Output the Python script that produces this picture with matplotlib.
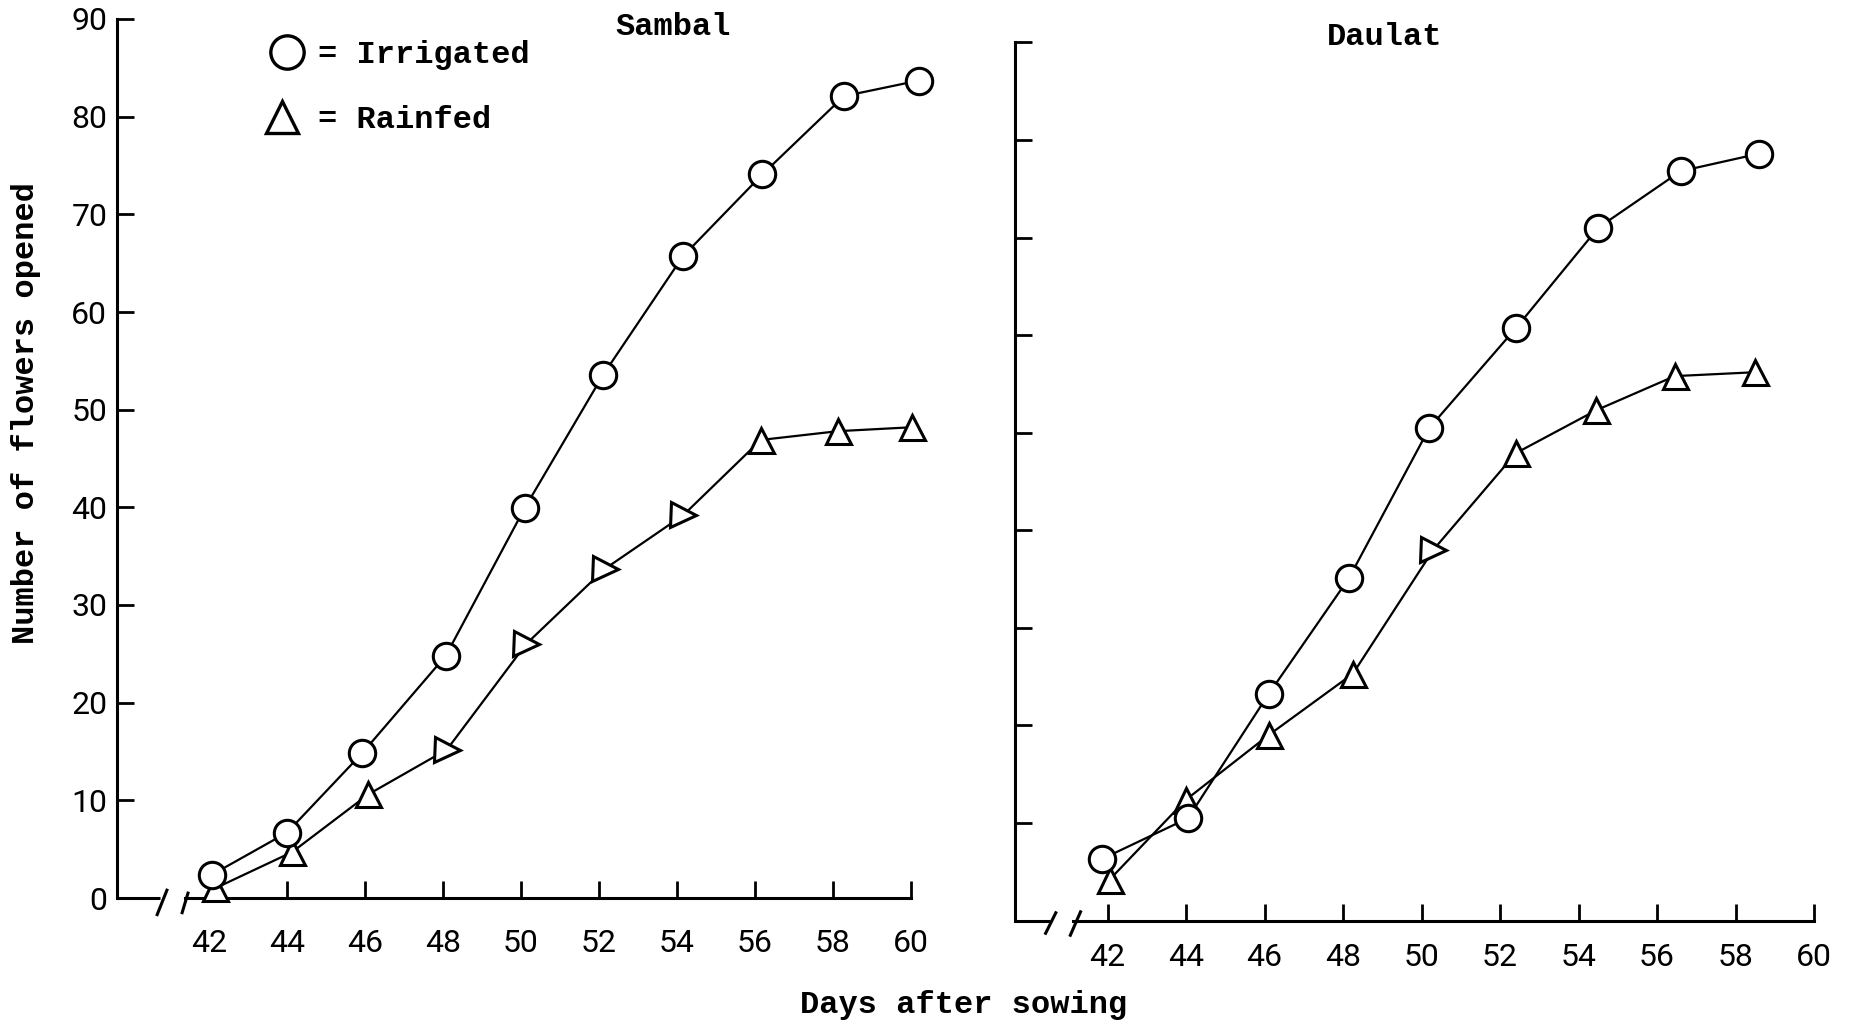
import matplotlib.pyplot as plt

# days after sowing (tick labels) and values
days = [42, 44, 46, 48, 50, 52, 54, 56, 58, 60]

sambal_irr_x = [42.08, 44.0, 45.92, 48.07, 50.09, 52.11, 54.15, 56.19, 58.28, 60.2]
sambal_irr_y = [2.4, 6.7, 14.8, 24.8, 39.9, 53.6, 65.7, 74.1, 82.1, 83.7]
sambal_rain_x = [42.16, 44.13, 46.08, 48.1, 50.13, 52.15, 54.16, 56.15, 58.13, 60.02]
sambal_rain_y = [1.0, 4.7, 10.6, 15.2, 26.0, 33.7, 39.2, 46.9, 47.8, 48.2]

daulat_irr_x = [41.85, 44.05, 46.1, 48.15, 50.2, 52.4, 54.5, 56.6, 58.6]
daulat_irr_y = [6.3, 10.5, 23.2, 35.1, 50.5, 60.7, 71.0, 76.8, 78.6]
daulat_rain_x = [42.05, 44.0, 46.1, 48.25, 50.3, 52.4, 54.45, 56.45, 58.5]
daulat_rain_y = [4.2, 12.4, 19.0, 25.3, 38.0, 47.9, 52.3, 55.8, 56.2]

yticks = [0, 10, 20, 30, 40, 50, 60, 70, 80, 90]

plt.rcParams["font.family"] = ["Liberation Mono", "DejaVu Sans Mono"]
W, H = 1850, 1026
fig = plt.figure(figsize=(W / 100, H / 100), dpi=100)

ax1 = fig.add_axes([117 / W, 1 - 898 / H, 796 / W, 879 / H])
ax2 = fig.add_axes([1015 / W, 1 - 920.6 / H, 801 / W, 878.2 / H])


def style(ax, axis_start, piece_end, slash1, slash2, ylabels, xpad):
    ax.set_xlim(39.64, 60.05)
    ax.set_ylim(0, 90)
    ax.spines["top"].set_visible(False)
    ax.spines["right"].set_visible(False)
    ax.spines["left"].set_linewidth(2.2)
    ax.spines["bottom"].set_linewidth(2.2)
    ax.spines["bottom"].set_bounds(axis_start, 60.0)
    ax.set_xticks(days, labels=[str(d) for d in days],
                  fontfamily="Roboto", fontsize=23)
    if ylabels:
        ax.set_yticks(yticks, labels=[str(v) for v in yticks],
                      fontfamily="Roboto", fontsize=23)
    else:
        ax.set_yticks(yticks, labels=[])
    ax.tick_params(direction="in", length=12, width=2)
    ax.tick_params(axis="x", pad=xpad)
    ax.tick_params(axis="y", pad=7)
    # broken axis near the origin
    x0 = ax.get_xlim()[0]
    ax.plot([x0, piece_end], [0, 0], color="black", lw=2.2, clip_on=False,
            solid_capstyle="butt")
    for (xa, ya), (xb, yb) in (slash1, slash2):
        ax.plot([xa, xb], [ya, yb], color="black", lw=2.2, clip_on=False)


style(ax1, 41.38, 40.74,
      ((40.67, -1.7), (40.92, 0.8)), ((41.31, -1.5), (41.46, 0.5)), True, 22)
style(ax2, 41.11, 40.52,
      ((40.42, -1.3), (40.68, 0.8)), ((41.05, -1.5), (41.31, 0.9)), False, 16)

line_kw = dict(color="black", lw=1.6, clip_on=False, zorder=3)
circ_kw = dict(marker="o", markersize=19, markerfacecolor="white",
               markeredgecolor="black", markeredgewidth=2.2)
tri_kw = dict(markersize=18, markerfacecolor="white",
              markeredgecolor="black", markeredgewidth=2.2)

sambal_marks = ["^", "^", "^", ">", ">", ">", ">", "^", "^", "^"]
daulat_marks = ["^", "^", "^", "^", ">", "^", "^", "^", "^"]

for ax, ix, iy, rx, ry, marks in [
    (ax1, sambal_irr_x, sambal_irr_y, sambal_rain_x, sambal_rain_y, sambal_marks),
    (ax2, daulat_irr_x, daulat_irr_y, daulat_rain_x, daulat_rain_y, daulat_marks),
]:
    ax.plot(rx, ry, **line_kw)
    ax.plot(ix, iy, **line_kw)
    for x, y, m in zip(rx, ry, marks):
        ax.plot([x], [y], linestyle="none", marker=m, clip_on=False,
                zorder=4, **tri_kw)
    ax.plot(ix, iy, linestyle="none", clip_on=False, zorder=5, **circ_kw)

txt_kw = dict(fontsize=23, fontweight="bold", color="black")

fig.text(673 / W, 1 - 35 / H, "Sambal", ha="center", va="baseline", **txt_kw)
fig.text(1385 / W, 1 - 45 / H, "Daulat", ha="center", va="baseline", **txt_kw)
fig.text(964 / W, 1 - 1013 / H, "Days after sowing", ha="center",
         va="baseline", **txt_kw)
fig.text(26 / W, 1 - 413 / H, "Number of flowers opened", ha="center",
         va="center", rotation=90, **txt_kw)

# legend drawn by hand, as in the original
fig.lines.append(plt.Line2D([287 / W], [1 - 52 / H], transform=fig.transFigure,
                            marker="o", markersize=24, markerfacecolor="white",
                            markeredgecolor="black", markeredgewidth=2.4,
                            linestyle="none"))
fig.lines.append(plt.Line2D([282 / W], [1 - 117 / H], transform=fig.transFigure,
                            marker="^", markersize=23, markerfacecolor="white",
                            markeredgecolor="black", markeredgewidth=2.4,
                            linestyle="none"))
fig.text(318 / W, 1 - 63 / H, "= Irrigated", ha="left", va="baseline", **txt_kw)
fig.text(318 / W, 1 - 128 / H, "= Rainfed", ha="left", va="baseline", **txt_kw)

fig.savefig("out.png", dpi=100, facecolor="white")
